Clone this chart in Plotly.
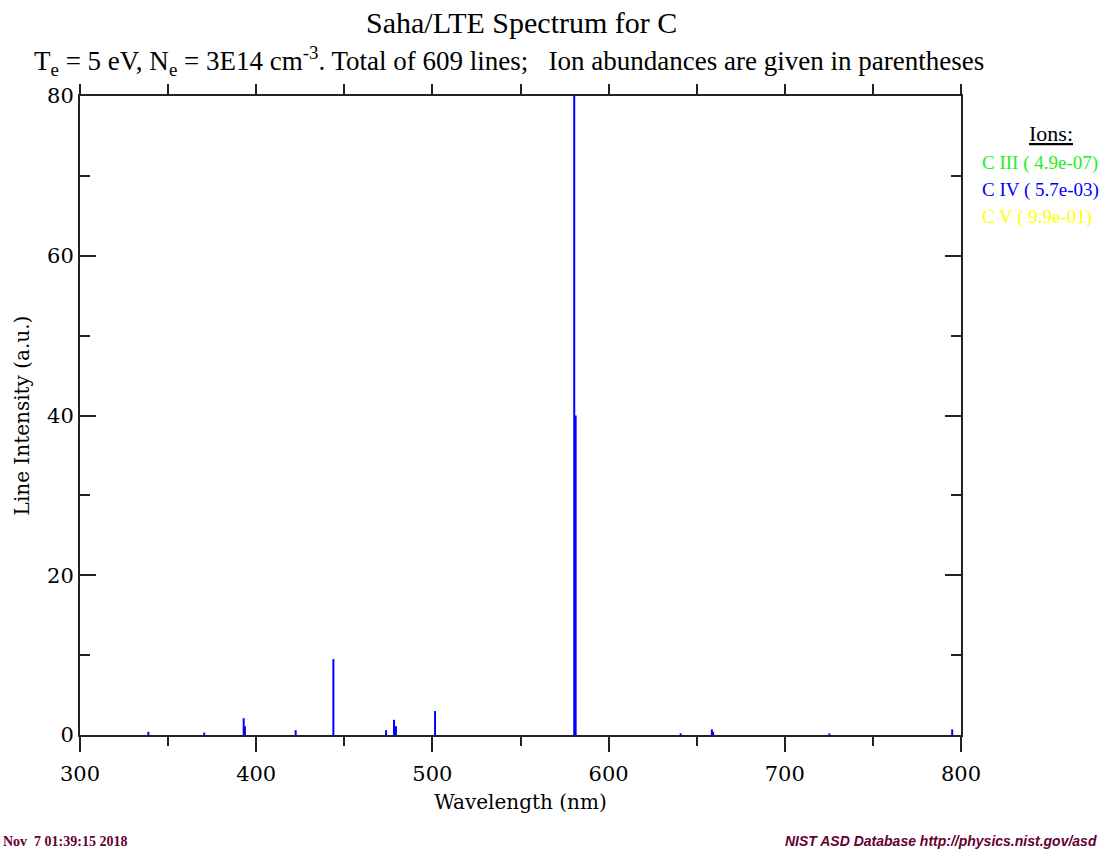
import plotly.graph_objects as go

# ---- data ----
wavelengths = [338.8, 370.5, 392.9, 393.6, 422.4, 443.8, 473.7, 478.2, 479.3,
               501.5, 580.5, 581.3, 640.9, 658.6, 659.3, 725.3, 795.0]
intensities = [0.4, 0.3, 2.1, 1.1, 0.6, 9.5, 0.6, 1.9, 1.1,
               3.0, 80.0, 40.0, 0.2, 0.7, 0.4, 0.2, 0.7]
x_ticks = [300, 400, 500, 600, 700, 800]
y_ticks = [0, 20, 40, 60, 80]
ion_names = ["C III ( 4.9e-07)", "C IV ( 5.7e-03)", "C V ( 9.9e-01)"]
ion_colors = ["#22EE22", "#0000FF", "#FFFF00"]

W, H = 1106, 850
L, R, T, B = 80, 145, 96, 115
PW, PH = W - L - R, H - T - B


def px(x):
    return (x - L) / PW


def py(y):
    return (H - B - y) / PH


xs, ys = [], []
for w, h in zip(wavelengths, intensities):
    xs += [w, w, None]
    ys += [0, h, None]

fig = go.Figure()
fig.add_trace(go.Scatter(x=xs, y=ys, mode="lines",
                         line=dict(color="#0000FF", width=2),
                         hoverinfo="skip", showlegend=False))
fig.add_trace(go.Scatter(x=[300, 800], y=[0, 80], xaxis="x2", yaxis="y2",
                         mode="markers", marker=dict(opacity=0),
                         hoverinfo="skip", showlegend=False))

tickfont = dict(family="DejaVu Serif", size=21, color="black")
axfont = dict(family="DejaVu Serif", size=20, color="black")
fig.update_layout(
    width=W, height=H,
    margin=dict(l=L, r=R, t=T, b=B),
    paper_bgcolor="white", plot_bgcolor="white",
    xaxis=dict(range=[300, 800], tickvals=x_ticks, ticks="outside", ticklen=15,
               tickwidth=2, tickcolor="#222", showline=True, linewidth=2,
               linecolor="#222", showgrid=False, zeroline=False,
               tickfont=tickfont, ticklabelstandoff=4,
               minor=dict(dtick=50, ticks="outside", ticklen=9, tickwidth=2,
                          tickcolor="#222", showgrid=False),
               title=dict(text="Wavelength (nm)", font=axfont, standoff=10)),
    xaxis2=dict(range=[300, 800], overlaying="x", side="top", dtick=50,
                ticks="outside", ticklen=10, tickwidth=2, tickcolor="#222",
                showticklabels=False, showline=True, linewidth=2,
                linecolor="#222", showgrid=False, zeroline=False),
    yaxis=dict(range=[0, 80], tickvals=y_ticks, ticks="inside", ticklen=16,
               tickwidth=2, tickcolor="#222", showline=True, linewidth=2,
               linecolor="#222", showgrid=False, zeroline=False,
               tickfont=tickfont,
               minor=dict(dtick=10, ticks="inside", ticklen=10, tickwidth=2,
                          tickcolor="#222", showgrid=False),
               title=dict(text="Line Intensity (a.u.)", font=axfont, standoff=12)),
    yaxis2=dict(range=[0, 80], overlaying="y", side="right", tickvals=y_ticks,
                ticks="inside", ticklen=16, tickwidth=2, tickcolor="#222",
                showticklabels=False, showline=True, linewidth=2,
                linecolor="#222", showgrid=False, zeroline=False,
                minor=dict(dtick=10, ticks="inside", ticklen=10, tickwidth=2,
                           tickcolor="#222", showgrid=False)),
)

ann = []
ann.append(dict(text="Saha/LTE Spectrum for C", x=px(521), y=py(22),
                font=dict(family="Liberation Serif", size=30, color="black")))
sub = ("T<sub>e</sub> = 5 eV, N<sub>e</sub> = 3E14 cm<sup>-3</sup>. Total of 609 lines;"
       "\u00a0\u00a0 Ion abundances are given in parentheses")
ann.append(dict(text=sub, x=px(509), y=py(61),
                font=dict(family="Liberation Serif", size=27, color="black")))
ann.append(dict(text="<u>Ions:</u>", x=px(1051), y=py(134),
                font=dict(family="Liberation Serif", size=22, color="black")))
for i, (n, c) in enumerate(zip(ion_names, ion_colors)):
    ann.append(dict(text=n, x=px(980), y=py(163 + 27 * i), xanchor="left",
                    font=dict(family="Liberation Serif", size=19, color=c)))
ann.append(dict(text="<b>Nov\u00a0 7 01:39:15 2018</b>", x=px(1), y=py(841),
                xanchor="left",
                font=dict(family="Liberation Serif", size=14, color="#660033")))
ann.append(dict(text="<b><i>NIST ASD Database http://physics.nist.gov/asd</i></b>",
                x=px(1099), y=py(841), xanchor="right",
                font=dict(family="Liberation Sans", size=14, color="#660033")))
for a in ann:
    a.setdefault("xanchor", "center")
    a.update(xref="paper", yref="paper", yanchor="middle", showarrow=False)
fig.update_layout(annotations=ann)

fig.write_html("out.html")
